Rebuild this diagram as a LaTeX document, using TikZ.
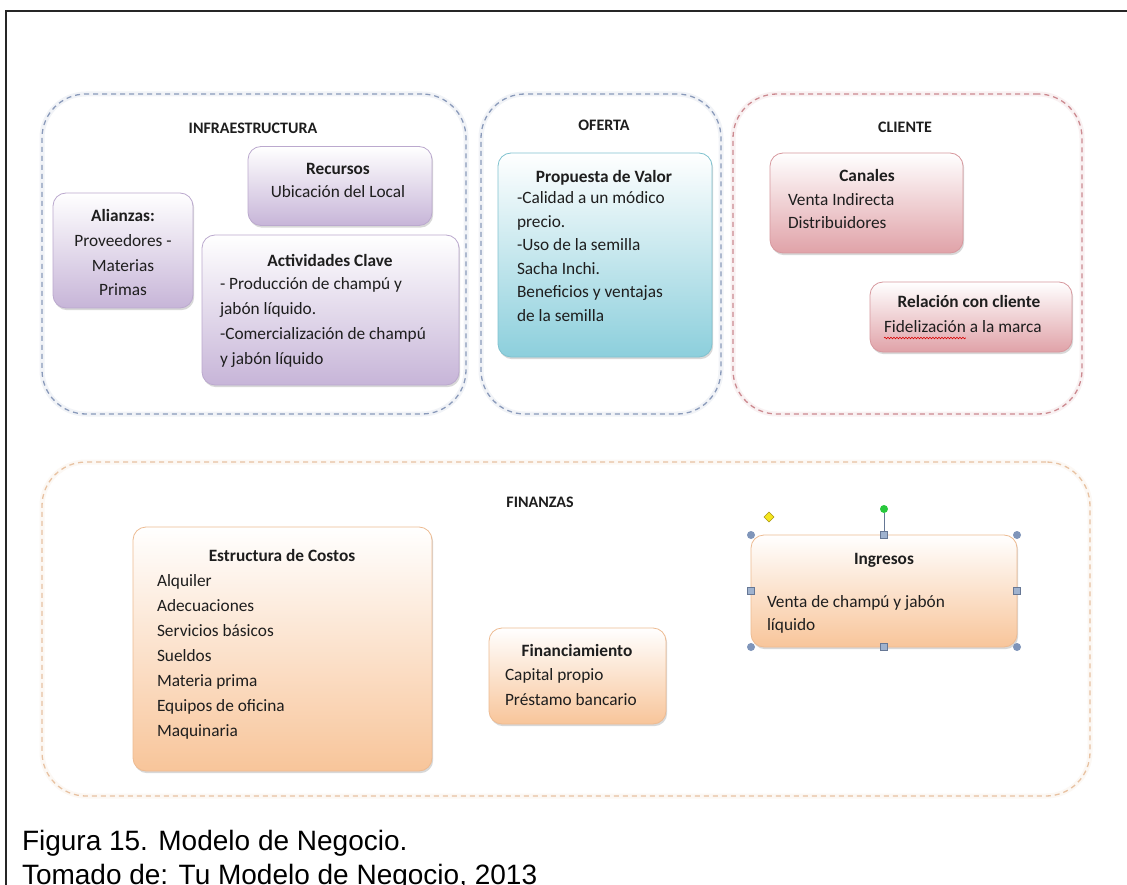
\documentclass[tikz,border=0pt]{standalone}
\usepackage{fontspec}
\setmainfont{Carlito}
\newfontfamily\capfont{Liberation Sans}
\usetikzlibrary{shadows,shapes.geometric,decorations.pathmorphing}

\definecolor{lilacFill}{HTML}{C7B5D8}
\definecolor{lilacLine}{HTML}{BBA9CE}
\definecolor{aquaFill}{HTML}{8CCFDC}
\definecolor{aquaLine}{HTML}{80C2CF}
\definecolor{roseFill}{HTML}{E0A2A8}
\definecolor{roseLine}{HTML}{D7989E}
\definecolor{peachFill}{HTML}{F8C59A}
\definecolor{peachLine}{HTML}{EDBB92}
\definecolor{slateDash}{HTML}{8A9ABA}
\definecolor{roseDash}{HTML}{CC8A90}
\definecolor{peachDash}{HTML}{E8C2A2}
\definecolor{handleBlue}{HTML}{7F95BA}
\definecolor{handleSq}{HTML}{9FB2CE}
\definecolor{inkText}{HTML}{1E1E1E}

\tikzset{
  every node/.style={inner sep=0pt, outer sep=0pt, text=inkText},
  zone/.style={draw=#1, line width=1.3pt, dash pattern=on 5pt off 4pt,
    rounded corners=44pt,
    preaction={draw=#1!12, line width=5pt, solid}},
  card/.style={rounded corners=13pt, draw=#1Line, line width=0.8pt,
    top color=white, bottom color=#1Fill,
    drop shadow={opacity=0.3, shadow xshift=1.2pt, shadow yshift=-2.2pt}},
  sect/.style={font=\fontsize{16}{18}\selectfont\bfseries},
  ttl/.style={font=\fontsize{17.3}{20}\selectfont\bfseries,
    text height=12.5pt, text depth=3.5pt},
  txt/.style={font=\fontsize{17.3}{20}\selectfont, anchor=west,
    text height=12.5pt, text depth=3.5pt},
  ctxt/.style={font=\fontsize{17.3}{20}\selectfont,
    text height=12.5pt, text depth=3.5pt},
  capline/.style={font=\capfont\fontsize{28}{32}\selectfont, anchor=base west, text=black},
  dothandle/.style={circle, fill=handleBlue, minimum size=8pt},
  sqhandle/.style={rectangle, fill=handleSq, draw=handleBlue!80!black,
    line width=0.6pt, minimum size=7pt},
}

\begin{document}
\begin{tikzpicture}[x=1pt,y=-1pt]
\useasboundingbox (0,0) rectangle (1127,885);
\fill[white] (0,0) rectangle (1127,885);

% page frame
\coordinate (fbl) at (6,885);
\coordinate (ftl) at (6,11);
\coordinate (ftr) at (1127,11);
\draw[line width=1.4pt, black!85] (fbl) -- (ftl) -- (ftr);

% dashed group outlines
\node[zone=slateDash, minimum width=424, minimum height=320] (infra) at (254,254) {};
\node[zone=slateDash, minimum width=240, minimum height=320] (oferta) at (601,254) {};
\node[zone=roseDash, minimum width=349, minimum height=320] (cliente) at (907.5,254) {};
\node[zone=peachDash, minimum width=1048, minimum height=334] (finanzas) at (566,629) {};

% group headings
\node[sect] (tInfra) at (253,128) {INFRAESTRUCTURA};
\node[sect] (tOferta) at (604,125) {OFERTA};
\node[sect] (tCliente) at (905,127) {CLIENTE};
\node[sect] (tFin) at (540,502) {FINANZAS};

% ---- INFRAESTRUCTURA ----
\node[card=lilac, minimum width=184, minimum height=79] (recursos) at (340,186) {};
\node[ttl] (recT) at (338,170) {Recursos};
\node[ctxt] (rec1) at (338,193) {Ubicación del Local};

\node[card=lilac, minimum width=140, minimum height=115] (alianzas) at (123,250.5) {};
\node[ttl] (aliT) at (123,217) {Alianzas:};
\node[ctxt] (ali1) at (123,242) {Proveedores -};
\node[ctxt] (ali2) at (123,267) {Materias};
\begin{scope}
  \clip (53,193) rectangle (193,297);
  \node[ctxt] (ali3) at (123,291) {Primas};
\end{scope}

\node[card=lilac, minimum width=257, minimum height=150] (activ) at (330.5,310) {};
\node[ttl] (actT) at (330,262) {Actividades Clave};
\node[txt] (act1) at (220,285) {- Producción de champú y};
\node[txt] (act2) at (220,310) {jabón líquido.};
\node[txt] (act3) at (220,335) {-Comercialización de champú};
\node[txt] (act4) at (220,360) {y jabón líquido};

% ---- OFERTA ----
\node[card=aqua, minimum width=214, minimum height=204] (propuesta) at (605,255) {};
\node[ttl] (proT) at (604,178) {Propuesta de Valor};
\foreach \t [count=\i] in {-Calidad a un módico, precio., -Uso de la semilla,
    Sacha Inchi., Beneficios y ventajas, de la semilla}
  \node[txt] (pro\i) at (517,{199+23.6*(\i-1)}) {\t};

% ---- CLIENTE ----
\node[card=rose, minimum width=193, minimum height=100] (canales) at (866.5,203) {};
\node[ttl] (canT) at (867,177) {Canales};
\node[txt] (can1) at (788,201) {Venta Indirecta};
\node[txt] (can2) at (788,224) {Distribuidores};

\node[card=rose, minimum width=202, minimum height=70] (relacion) at (971,317) {};
\node[ttl] (relT) at (969,303) {Relación con cliente};
\node[txt] (rel1) at (884,328) {Fidelización};
\node[txt, anchor=base west] (rel2) at ([xshift=4pt]rel1.base east) {a la marca};
\draw[red!85!black, line width=0.6pt,
  decorate, decoration={snake, amplitude=0.8pt, segment length=3pt}]
  ([yshift=-2pt]rel1.south west) -- ([yshift=-2pt]rel1.south east);

% ---- FINANZAS ----
\node[card=peach, minimum width=299, minimum height=244] (costos) at (282.5,649) {};
\node[ttl] (cosT) at (282,557) {Estructura de Costos};
\foreach \t [count=\i] in {Alquiler, Adecuaciones, Servicios básicos, Sueldos,
    Materia prima, Equipos de oficina, Maquinaria}
  \node[txt] (cos\i) at (157,{582+25*(\i-1)}) {\t};

\node[card=peach, minimum width=177, minimum height=96] (financ) at (577.5,676) {};
\node[ttl] (finT) at (577,652) {Financiamiento};
\node[txt] (fin1) at (505,676) {Capital propio};
\node[txt] (fin2) at (505,701) {Préstamo bancario};

\node[card=peach, minimum width=266, minimum height=112] (ingresos) at (884,591) {};
\node[ttl] (ingT) at (884,560) {Ingresos};
\node[txt] (ing1) at (767,603) {Venta de champú y jabón};
\node[txt] (ing2) at (767,626) {líquido};

% selection handles around the revenue card
\node[dothandle] (hNW) at (ingresos.north west) {};
\node[dothandle] (hNE) at (ingresos.north east) {};
\node[dothandle] (hSW) at (ingresos.south west) {};
\node[dothandle] (hSE) at (ingresos.south east) {};
\node[sqhandle] (hN) at (ingresos.north) {};
\node[sqhandle] (hS) at (ingresos.south) {};
\node[sqhandle] (hW) at (ingresos.west) {};
\node[sqhandle] (hE) at (ingresos.east) {};
\node[circle, fill={rgb,255:red,40;green,200;blue,60}, minimum size=8pt] (hRot) at (884,509) {};
\draw[handleBlue!80!black, line width=0.9pt] (hRot) -- (hN);
\node[diamond, fill={rgb,255:red,245;green,230;blue,30}, draw={rgb,255:red,170;green,150;blue,20},
  line width=0.6pt, minimum size=10pt] (hAdj) at (769,517) {};

% caption
\node[capline] (cap1) at (22,850) {Figura 15. Modelo de Negocio.};
\node[capline] (cap2) at (22,884) {Tomado de: Tu Modelo de Negocio, 2013};
\end{tikzpicture}
\end{document}
